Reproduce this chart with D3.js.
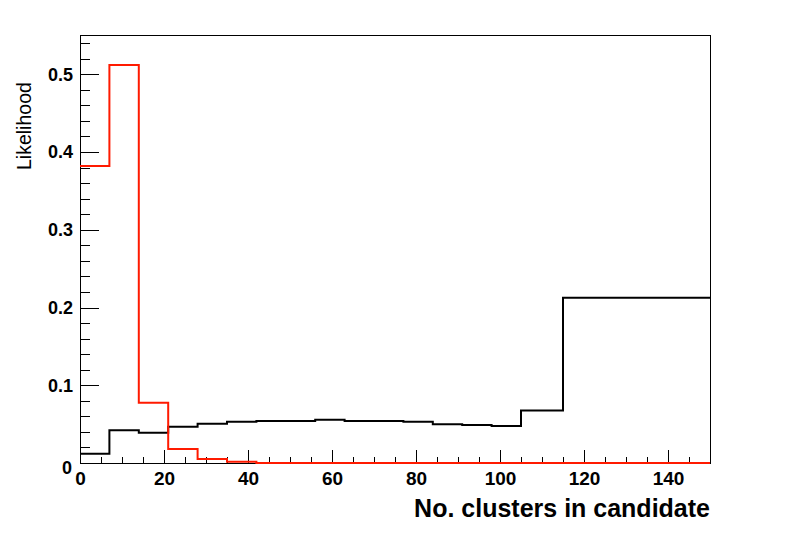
<!DOCTYPE html>
<html><head><meta charset="utf-8">
<script src="https://cdn.jsdelivr.net/npm/d3@7"></script>
<style>
html,body{margin:0;padding:0;background:#fff;}
svg{display:block;font-family:"Liberation Sans",Arial,Helvetica,sans-serif;}
</style></head>
<body>
<svg id="c" width="788" height="533"></svg>
<script>
// bin edges (No. clusters in candidate)
const binEdges = [0,7,14,21,28,35,42,49,56,63,70,77,84,91,98,105,115,150];
// black histogram
const blackValues = [0.012,0.042,0.039,0.0465,0.0505,0.053,0.054,0.054,0.0555,0.054,0.054,0.053,0.050,0.049,0.0475,0.0675,0.2125];
// red histogram
const redValues = [0.382,0.512,0.0775,0.018,0.005,0.0015,0,0,0,0,0,0,0,0,0,0,0];
const xTicks = [0,20,40,60,80,100,120,140];
const yTicks = [0,0.1,0.2,0.3,0.4,0.5];
const xTitle = "No. clusters in candidate";
const yTitle = "Likelihood";

const svg = d3.select("#c");
const L = 80, R = 710, T = 35, B = 463;
const x = d3.scaleLinear().domain([0,150]).range([L,R]);
const y = d3.scaleLinear().domain([0,0.5505]).range([B,T]);

// frame
svg.append("rect").attr("x",L).attr("y",T).attr("width",R-L).attr("height",B-T)
  .attr("fill","none").attr("stroke","#000").attr("stroke-width",1).attr("shape-rendering","crispEdges");

// minor ticks
const xMinor = d3.range(0,150,5).filter(v=>v%20!==0);
const yMinor = d3.range(0,0.55,0.02).map(v=>+v.toFixed(2)).filter(v=>Math.abs(v*10-Math.round(v*10))>1e-6);

const gxm = svg.append("g").attr("transform",`translate(0,${B})`)
  .call(d3.axisBottom(x).tickValues(xMinor).tickSize(-6.5).tickFormat(""));
const gx = svg.append("g").attr("transform",`translate(0,${B})`)
  .call(d3.axisBottom(x).tickValues(xTicks).tickSize(-13).tickPadding(5).tickFormat(d3.format("d")));
const gym = svg.append("g").attr("transform",`translate(${L},0)`)
  .call(d3.axisLeft(y).tickValues(yMinor).tickSize(-9.5).tickFormat(""));
const gy = svg.append("g").attr("transform",`translate(${L},0)`)
  .call(d3.axisLeft(y).tickValues(yTicks).tickSize(-19).tickPadding(7).tickFormat(d=>d===0?"0":d3.format(".1f")(d)));

[gxm,gx,gym,gy].forEach(g=>{
  g.select(".domain").remove();
  g.selectAll("line").attr("stroke","#000").attr("stroke-width",1).attr("shape-rendering","crispEdges");
});
gx.selectAll("text").attr("font-size",19).attr("font-weight","bold").attr("fill","#000")
  .attr("font-family","Liberation Sans, Arial, sans-serif").attr("dy","0.9em");
gy.selectAll("text").attr("font-size",18).attr("font-weight","bold").attr("fill","#000")
  .attr("font-family","Liberation Sans, Arial, sans-serif");
gy.selectAll("text").filter(d=>d===0).attr("dy","0.6em").attr("dx","-1");

// step paths
function stepPoints(vals){
  const pts=[];
  vals.forEach((v,i)=>{pts.push([binEdges[i],v]);pts.push([binEdges[i+1],v]);});
  return pts;
}
const line = d3.line().x(d=>x(d[0])).y(d=>y(d[1]));
svg.append("path").attr("d",line(stepPoints(blackValues))).attr("fill","none")
  .attr("stroke","#000").attr("stroke-width",2);
svg.append("path").attr("d",line(stepPoints(redValues))).attr("fill","none")
  .attr("stroke","#ff1a00").attr("stroke-width",2);

// titles
svg.append("text").attr("x",R).attr("y",517).attr("text-anchor","end")
  .attr("font-size",25).attr("font-weight","bold").attr("fill","#000").text(xTitle);
svg.append("text").attr("transform","translate(31,170) rotate(-90)").attr("text-anchor","start")
  .attr("font-size",19.5).attr("fill","#000").text(yTitle);
</script>
</body></html>
